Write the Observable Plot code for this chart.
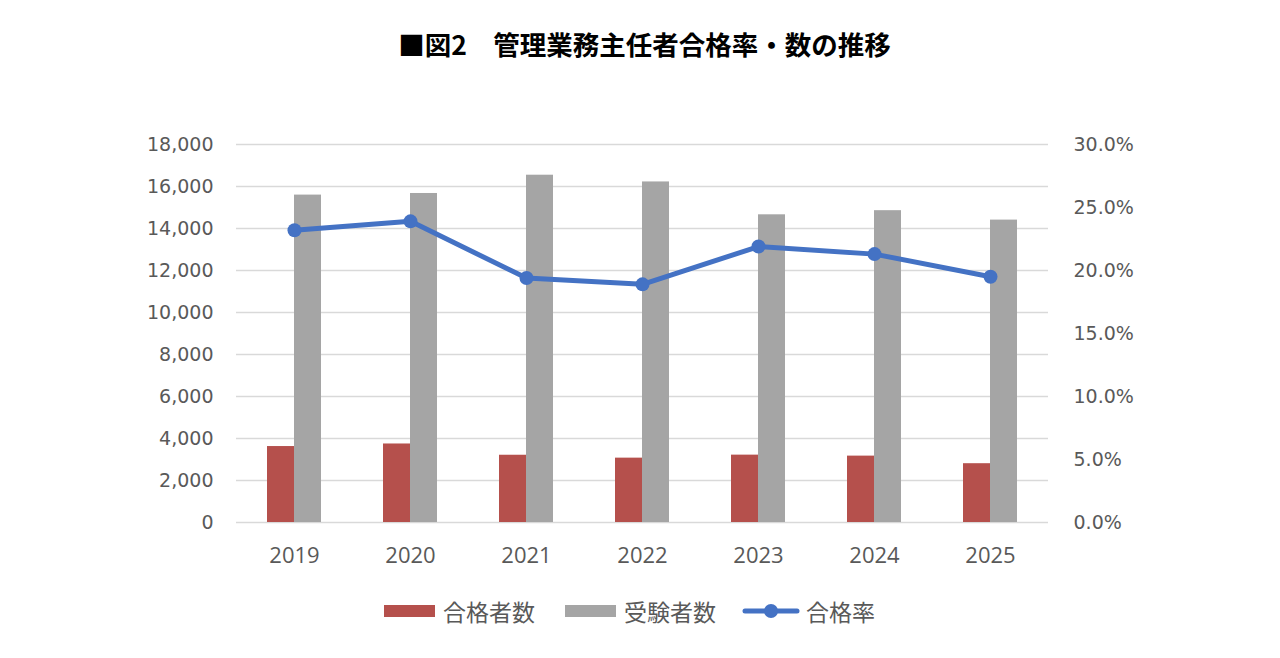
<!DOCTYPE html>
<html>
<head>
<meta charset="utf-8">
<script src="https://cdn.jsdelivr.net/npm/d3@7"></script>
<script src="https://cdn.jsdelivr.net/npm/@observablehq/plot@0.6"></script>
<style>
  html, body { margin: 0; padding: 0; background: #fff; }
  body { width: 1280px; height: 658px; position: relative; overflow: hidden; }
  #title { position: absolute; left: 0; top: 0; width: 1280px; height: 88px; line-height: 88px; text-align: center;
    font-family: "Noto Sans CJK JP", sans-serif; font-weight: bold; font-size: 26.5px; color: #000; padding-left: 9px; box-sizing: border-box; }
  #chart { position: absolute; left: 0; top: 90px; }
  #legend { position: absolute; left: 384px; top: 595px; height: 32px; display: flex; align-items: center;
    font-family: "Noto Sans CJK JP", sans-serif; font-size: 23px; color: #595959; }
  .sw { display: inline-block; height: 12px; }
  .item { display: flex; align-items: center; }
</style>
</head>
<body>
<div id="title">■図2　管理業務主任者合格率・数の推移</div>
<div id="chart"></div>
<div id="legend"></div>
<script>
// ---- data ----
const years = ["2019", "2020", "2021", "2022", "2023", "2024", "2025"];
const passers = [3617, 3739, 3203, 3065, 3208, 3161, 2800];       // 合格者数
const examinees = [15591, 15667, 16538, 16217, 14652, 14849, 14400]; // 受験者数
const rates = [23.2, 23.9, 19.4, 18.9, 21.9, 21.3, 19.5];          // 合格率 (%)
const leftTicks = [0, 2000, 4000, 6000, 8000, 10000, 12000, 14000, 16000, 18000];
const rightTicks = [0, 5, 10, 15, 20, 25, 30]; // %
const seriesNames = ["合格者数", "受験者数", "合格率"];
const colors = ["#B5504C", "#A5A5A5", "#4472C4"];

// right axis: 30% corresponds to 18,000
const rateScale = 18000 / 30;

const table = years.map((y, i) => ({year: y, passers: passers[i], examinees: examinees[i], rate: rates[i], rateY: rates[i] * rateScale}));

const chart = Plot.plot({
  width: 1280,
  height: 490,
  marginTop: 54,
  marginBottom: 58,
  marginLeft: 236,
  marginRight: 232,
  x: {type: "band", domain: years, padding: 0},
  y: {domain: [0, 18000]},
  marks: [
    Plot.gridY(leftTicks, {stroke: "#D9D9D9", strokeOpacity: 1, strokeWidth: 1.6}),
    Plot.barY(table, {x: "year", y: "passers", fill: colors[0], insetLeft: 31, insetRight: 58}),
    Plot.barY(table, {x: "year", y: "examinees", fill: colors[1], insetLeft: 58, insetRight: 31}),
    Plot.line(table, {x: "year", y: "rateY", stroke: colors[2], strokeWidth: 5, strokeLinejoin: "round", strokeLinecap: "round"}),
    Plot.dot(table, {x: "year", y: "rateY", r: 7, fill: colors[2], stroke: "none"}),
    Plot.axisY(leftTicks, {anchor: "left", tickSize: 0, tickPadding: 23, tickFormat: d3.format(","), label: null,
      fontFamily: "DejaVu Sans", fontSize: 19, fill: "#595959"}),
    Plot.axisY(rightTicks.map(d => d * rateScale), {anchor: "right", tickSize: 0, tickPadding: 25,
      tickFormat: d => (d / rateScale).toFixed(1) + "%", label: null,
      fontFamily: "DejaVu Sans", fontSize: 19, fill: "#595959"}),
    Plot.axisX({anchor: "bottom", tickSize: 0, tickPadding: 25, label: null,
      fontFamily: "Open Sans", fontSize: 22, fill: "#595959"})
  ]
});
document.getElementById("chart").appendChild(chart);

// legend
const legend = document.getElementById("legend");
const items = [
  {name: seriesNames[0], kind: "bar", color: colors[0], gapAfter: 30},
  {name: seriesNames[1], kind: "bar", color: colors[1], gapAfter: 26},
  {name: seriesNames[2], kind: "line", color: colors[2], gapAfter: 0}
];
items.forEach(it => {
  const d = document.createElement("div");
  d.className = "item";
  d.style.marginRight = it.gapAfter + "px";
  if (it.kind === "bar") {
    const s = document.createElement("span");
    s.className = "sw";
    s.style.width = "51px";
    s.style.background = it.color;
    s.style.marginRight = "8px";
    d.appendChild(s);
  } else {
    const ns = "http://www.w3.org/2000/svg";
    const svg = document.createElementNS(ns, "svg");
    svg.setAttribute("width", 58); svg.setAttribute("height", 20);
    svg.style.marginRight = "6px";
    const l = document.createElementNS(ns, "line");
    l.setAttribute("x1", 3); l.setAttribute("x2", 55); l.setAttribute("y1", 10); l.setAttribute("y2", 10);
    l.setAttribute("stroke", it.color); l.setAttribute("stroke-width", 5); l.setAttribute("stroke-linecap", "round");
    const c = document.createElementNS(ns, "circle");
    c.setAttribute("cx", 29); c.setAttribute("cy", 10); c.setAttribute("r", 7); c.setAttribute("fill", it.color);
    svg.appendChild(l); svg.appendChild(c);
    d.appendChild(svg);
  }
  const t = document.createElement("span");
  t.textContent = it.name;
  d.appendChild(t);
  legend.appendChild(d);
});
</script>
</body>
</html>
